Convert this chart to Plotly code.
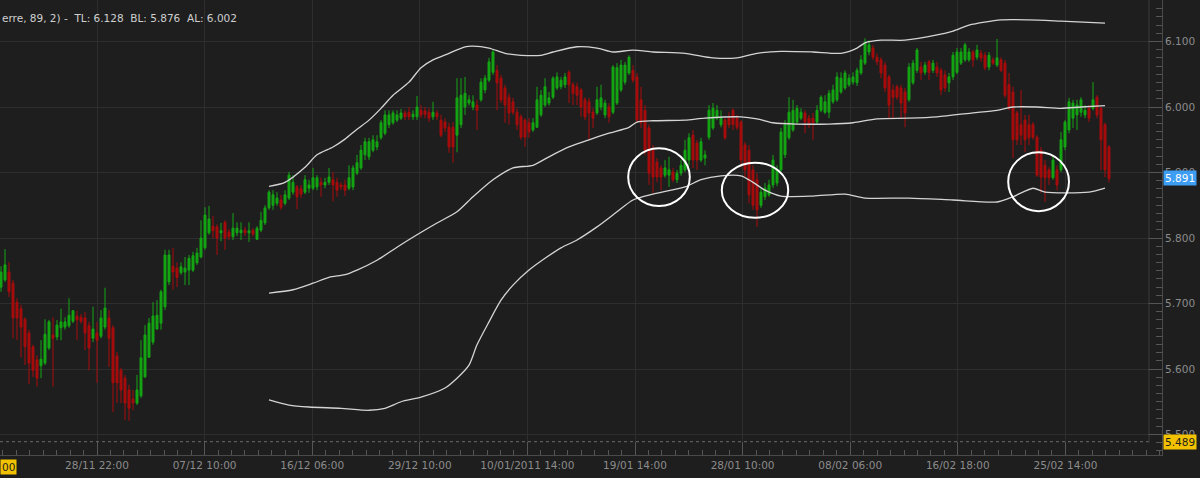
import plotly.graph_objects as go

# ---------------- candle data (one candle per bar index) ----------------
opens = [
    5.725, 5.736, 5.748, 5.731, 5.702, 5.692, 5.676, 5.655, 5.634, 5.614,
    5.605, 5.609, 5.632, 5.652, 5.649, 5.663, 5.664, 5.666, 5.673, 5.681,
    5.679, 5.678, 5.666, 5.647, 5.655, 5.650, 5.664, 5.678, 5.663, 5.620,
    5.598, 5.586, 5.568, 5.554, 5.548, 5.559, 5.588, 5.618, 5.641, 5.661,
    5.670, 5.695, 5.733, 5.757, 5.754, 5.747, 5.748, 5.751, 5.751, 5.762,
    5.771, 5.785, 5.808, 5.818, 5.817, 5.808, 5.824, 5.809,
    5.802, 5.808, 5.808, 5.812, 5.808, 5.812, 5.798, 5.812, 5.823, 5.846,
    5.850, 5.853, 5.858, 5.853, 5.861, 5.870, 5.878, 5.875, 5.870, 5.876,
    5.876, 5.878, 5.885, 5.881, 5.885, 5.889, 5.885, 5.881, 5.881, 5.876,
    5.878, 5.899, 5.907, 5.927, 5.924, 5.934, 5.939, 5.953, 5.960, 5.973,
    5.976, 5.980, 5.983, 5.991, 5.992, 5.985, 5.985, 5.995, 5.994, 5.992,
    5.985, 5.991, 5.980, 5.977, 5.969, 5.969, 5.957,
    5.973, 6.000, 6.006, 6.000, 6.003, 6.011, 6.026, 6.041, 6.053, 6.056,
    6.044, 6.029, 6.015, 6.008, 5.992, 5.985, 5.980, 5.976, 5.965, 5.969,
    5.988, 6.003, 6.006, 6.015, 6.029, 6.031, 6.034, 6.053, 6.034, 6.031,
    6.026, 6.011, 6.008, 5.992, 5.991, 6.000, 5.988, 6.000, 5.992, 6.006,
    6.026, 6.038, 6.052, 6.056, 6.046, 6.011, 5.995, 5.968, 5.934, 5.916,
    5.907, 5.896, 5.896, 5.901, 5.889, 5.899, 5.904,
    5.919, 5.957, 5.945, 5.919, 5.922, 5.954, 5.968, 5.983, 5.973, 5.980,
    5.983, 5.995, 5.983, 5.977, 5.942, 5.934, 5.904, 5.889, 5.850, 5.863,
    5.866, 5.881, 5.884, 5.904, 5.927, 5.953, 5.965, 5.977, 5.983, 5.991,
    5.983, 5.983, 5.977, 5.995, 5.992, 5.992, 6.008, 6.011, 6.023, 6.029,
    6.034, 6.038, 6.037, 6.052, 6.067, 6.084, 6.090, 6.076, 6.072, 6.064,
    6.046, 6.026, 6.031, 6.029, 6.023,
    6.011, 6.037, 6.056, 6.061, 6.053, 6.069, 6.056, 6.061, 6.056, 6.049,
    6.037, 6.046, 6.053, 6.067, 6.072, 6.072, 6.084, 6.076, 6.082, 6.079,
    6.061, 6.072, 6.064, 6.072, 6.067, 6.034, 6.023, 5.991, 5.973, 5.980,
    5.973, 5.973, 5.954, 5.934, 5.911, 5.904, 5.892, 5.904, 5.904, 5.939,
    5.965, 5.983, 5.988, 5.992, 5.988, 5.998, 5.998, 6.015, 5.998, 5.973, 5.939,
]
highs = [
    5.757, 5.783, 5.763, 5.736, 5.708, 5.698, 5.679, 5.660, 5.637, 5.621,
    5.644, 5.676, 5.675, 5.679, 5.675, 5.692, 5.679, 5.708, 5.690, 5.689,
    5.684, 5.687, 5.672, 5.695, 5.672, 5.690, 5.724, 5.690, 5.667, 5.626,
    5.602, 5.591, 5.576, 5.568, 5.591, 5.644, 5.667, 5.678, 5.702, 5.705,
    5.721, 5.782, 5.782, 5.785, 5.763, 5.763, 5.771, 5.774, 5.779, 5.785,
    5.827, 5.847, 5.849, 5.834, 5.821, 5.823, 5.827, 5.814,
    5.838, 5.824, 5.824, 5.817, 5.824, 5.815, 5.818, 5.840, 5.850, 5.873,
    5.873, 5.870, 5.866, 5.873, 5.901, 5.896, 5.881, 5.881, 5.896, 5.889,
    5.907, 5.896, 5.892, 5.892, 5.907, 5.901, 5.892, 5.885, 5.889, 5.911,
    5.911, 5.927, 5.942, 5.953, 5.953, 5.957, 5.957, 5.980, 5.995, 5.995,
    5.995, 5.995, 5.997, 5.995, 6.000, 5.995, 6.017, 6.003, 6.000, 5.998,
    6.008, 5.995, 5.988, 5.983, 5.976, 5.977, 6.044,
    6.044, 6.046, 6.018, 6.018, 6.011, 6.044, 6.049, 6.075, 6.087, 6.064,
    6.049, 6.034, 6.021, 6.014, 5.998, 5.989, 5.983, 5.983, 5.983, 6.031,
    6.026, 6.044, 6.023, 6.047, 6.053, 6.046, 6.052, 6.056, 6.038, 6.037,
    6.029, 6.015, 6.014, 5.998, 6.031, 6.034, 6.011, 6.006, 6.064, 6.067,
    6.072, 6.069, 6.079, 6.064, 6.052, 6.031, 6.003, 5.973, 5.942, 5.922,
    5.911, 5.919, 5.924, 5.907, 5.904, 5.919, 5.950,
    5.960, 5.965, 5.950, 5.953, 5.934, 6.003, 6.006, 6.003, 5.995, 5.983,
    5.992, 5.998, 5.988, 5.980, 5.947, 5.942, 5.911, 5.899, 5.876, 5.884,
    5.889, 5.927, 5.911, 5.968, 5.980, 6.015, 6.011, 6.003, 5.998, 5.995,
    5.988, 5.991, 6.003, 6.018, 6.018, 6.026, 6.034, 6.053, 6.053, 6.056,
    6.050, 6.053, 6.060, 6.079, 6.105, 6.102, 6.095, 6.082, 6.076, 6.069,
    6.049, 6.034, 6.034, 6.034, 6.029,
    6.067, 6.072, 6.090, 6.069, 6.069, 6.072, 6.072, 6.069, 6.060, 6.056,
    6.052, 6.084, 6.090, 6.090, 6.098, 6.090, 6.087, 6.095, 6.087, 6.084,
    6.084, 6.076, 6.104, 6.076, 6.072, 6.052, 6.031, 5.995, 6.026, 5.988,
    5.988, 5.977, 5.957, 5.939, 5.919, 5.908, 5.927, 5.911, 5.962, 5.980,
    6.014, 6.011, 6.011, 6.015, 6.003, 6.003, 6.038, 6.018, 6.000, 5.976, 5.942,
]
lows = [
    5.718, 5.733, 5.710, 5.647, 5.644, 5.618, 5.606, 5.577, 5.588, 5.573,
    5.586, 5.606, 5.629, 5.573, 5.644, 5.644, 5.660, 5.663, 5.670, 5.644,
    5.669, 5.629, 5.598, 5.641, 5.579, 5.647, 5.660, 5.603, 5.534, 5.548,
    5.548, 5.522, 5.521, 5.537, 5.545, 5.556, 5.586, 5.617, 5.637, 5.660,
    5.660, 5.690, 5.728, 5.721, 5.725, 5.744, 5.728, 5.728, 5.748, 5.759,
    5.769, 5.782, 5.805, 5.800, 5.774, 5.795, 5.782, 5.797,
    5.797, 5.803, 5.797, 5.803, 5.794, 5.802, 5.797, 5.809, 5.820, 5.843,
    5.843, 5.849, 5.843, 5.850, 5.858, 5.866, 5.844, 5.861, 5.867, 5.869,
    5.873, 5.873, 5.863, 5.876, 5.881, 5.856, 5.863, 5.873, 5.864, 5.873,
    5.873, 5.896, 5.904, 5.919, 5.919, 5.931, 5.934, 5.950, 5.957, 5.968,
    5.973, 5.977, 5.980, 5.980, 5.980, 5.980, 5.980, 5.983, 5.983, 5.977,
    5.980, 5.980, 5.954, 5.962, 5.930, 5.915, 5.931,
    5.968, 5.988, 6.002, 5.995, 5.965, 6.008, 6.021, 6.038, 6.049, 5.995,
    6.006, 5.976, 5.973, 5.988, 5.965, 5.950, 5.939, 5.953, 5.962, 5.968,
    5.985, 6.000, 6.002, 6.012, 6.026, 6.027, 6.029, 6.006, 6.003, 6.003,
    5.985, 5.980, 5.950, 5.968, 5.988, 5.995, 5.983, 5.976, 5.989, 6.003,
    6.023, 6.034, 6.049, 6.037, 5.977, 5.968, 5.927, 5.881, 5.869, 5.885,
    5.873, 5.892, 5.878, 5.885, 5.884, 5.895, 5.901,
    5.911, 5.907, 5.904, 5.916, 5.911, 5.950, 5.965, 5.980, 5.969, 5.950,
    5.968, 5.965, 5.965, 5.908, 5.892, 5.853, 5.843, 5.817, 5.846, 5.858,
    5.863, 5.876, 5.879, 5.901, 5.922, 5.950, 5.962, 5.973, 5.980, 5.960,
    5.968, 5.950, 5.974, 5.992, 5.989, 5.983, 6.005, 6.008, 6.020, 6.026,
    6.031, 6.034, 6.032, 6.049, 6.064, 6.079, 6.072, 6.064, 6.044, 6.023,
    5.983, 5.983, 6.011, 5.983, 5.969,
    6.008, 6.034, 6.052, 6.041, 6.049, 6.041, 6.052, 6.046, 6.018, 6.023,
    6.023, 6.041, 6.050, 6.064, 6.069, 6.069, 6.061, 6.072, 6.069, 6.056,
    6.056, 6.064, 6.061, 6.053, 6.014, 5.995, 5.922, 5.942, 5.942, 5.931,
    5.942, 5.950, 5.893, 5.869, 5.855, 5.881, 5.889, 5.873, 5.901, 5.934,
    5.960, 5.968, 5.965, 5.985, 5.983, 5.977, 5.995, 5.983, 5.904, 5.893, 5.885,
]
closes = [
    5.748, 5.759, 5.718, 5.678, 5.678, 5.664, 5.634, 5.609, 5.598, 5.586,
    5.615, 5.653, 5.672, 5.647, 5.667, 5.672, 5.672, 5.682, 5.689, 5.675,
    5.673, 5.655, 5.632, 5.661, 5.644, 5.678, 5.693, 5.647, 5.579, 5.579,
    5.568, 5.548, 5.540, 5.548, 5.568, 5.617, 5.652, 5.670, 5.681, 5.682,
    5.718, 5.774, 5.774, 5.748, 5.740, 5.756, 5.754, 5.769, 5.773, 5.777,
    5.800, 5.835, 5.829, 5.811, 5.800, 5.811, 5.800, 5.802,
    5.815, 5.815, 5.812, 5.808, 5.811, 5.806, 5.815, 5.827, 5.846, 5.870,
    5.866, 5.861, 5.847, 5.866, 5.896, 5.885, 5.863, 5.867, 5.889, 5.881,
    5.892, 5.892, 5.881, 5.885, 5.893, 5.881, 5.873, 5.878, 5.873, 5.892,
    5.907, 5.915, 5.934, 5.947, 5.947, 5.950, 5.947, 5.976, 5.988, 5.988,
    5.991, 5.988, 5.991, 5.985, 5.985, 5.989, 6.000, 5.988, 5.989, 5.983,
    5.992, 5.985, 5.957, 5.968, 5.939, 5.939, 6.014,
    6.018, 6.021, 6.011, 6.008, 5.995, 6.038, 6.044, 6.069, 6.084, 6.037,
    6.011, 6.003, 5.991, 5.992, 5.973, 5.954, 5.954, 5.962, 5.976, 6.011,
    6.018, 6.031, 6.014, 6.044, 6.046, 6.041, 6.046, 6.034, 6.021, 6.018,
    6.000, 5.985, 5.991, 5.983, 6.011, 6.014, 6.006, 5.985, 6.061, 6.060,
    6.064, 6.064, 6.076, 6.041, 5.980, 5.976, 5.934, 5.899, 5.893, 5.893,
    5.893, 5.907, 5.904, 5.889, 5.899, 5.911, 5.934,
    5.953, 5.919, 5.919, 5.947, 5.927, 5.995, 5.998, 5.995, 5.983, 5.953,
    5.973, 5.973, 5.969, 5.919, 5.904, 5.866, 5.850, 5.843, 5.870, 5.876,
    5.881, 5.919, 5.904, 5.962, 5.973, 5.992, 5.995, 5.998, 5.992, 5.977,
    5.973, 5.976, 5.995, 6.015, 6.008, 6.021, 6.026, 6.046, 6.044, 6.052,
    6.044, 6.046, 6.056, 6.072, 6.099, 6.095, 6.076, 6.069, 6.052, 6.029,
    6.003, 6.015, 6.015, 6.006, 5.991,
    6.061, 6.067, 6.087, 6.052, 6.064, 6.053, 6.067, 6.052, 6.026, 6.029,
    6.046, 6.079, 6.084, 6.084, 6.095, 6.084, 6.072, 6.087, 6.075, 6.060,
    6.079, 6.067, 6.075, 6.056, 6.018, 5.998, 5.950, 5.950, 5.957, 5.950,
    5.953, 5.954, 5.896, 5.893, 5.892, 5.892, 5.919, 5.881, 5.950, 5.977,
    6.008, 6.006, 6.003, 6.011, 5.995, 5.983, 6.011, 5.988, 5.950, 5.904, 5.891,
]
bar_index = list(range(len(closes)))

# ---------------- Bollinger bands (Cierre, 89, 2) ----------------
upper_idx = [67, 71, 76, 79, 83, 86, 89, 92, 95, 98, 102, 105, 108, 112, 116, 118,
             122, 126, 130, 135, 138, 144, 149, 153, 158, 163, 171, 178, 184, 189,
             195, 203, 210, 214, 216, 220, 226, 234, 238, 242, 250, 257, 265, 276]
upper_band = [5.879, 5.885, 5.908, 5.927, 5.939, 5.951, 5.966, 5.980, 5.998, 6.018,
              6.038, 6.060, 6.072, 6.082, 6.092, 6.093, 6.090, 6.082, 6.079, 6.079,
              6.084, 6.092, 6.090, 6.084, 6.087, 6.084, 6.082, 6.075, 6.075, 6.082,
              6.085, 6.084, 6.082, 6.090, 6.098, 6.102, 6.102, 6.110, 6.116, 6.125,
              6.133, 6.133, 6.131, 6.128]
middle_idx = [67, 73, 78, 82, 86, 89, 94, 99, 104, 109, 114, 118, 123, 128, 133, 137,
              142, 147, 152, 157, 159, 163, 171, 176, 185, 189, 193, 199, 207, 213,
              219, 227, 234, 243, 249, 253, 259, 265, 270, 276]
middle_band = [5.716, 5.721, 5.731, 5.740, 5.744, 5.751, 5.766, 5.786, 5.805, 5.823,
               5.840, 5.863, 5.889, 5.907, 5.911, 5.924, 5.939, 5.950, 5.960, 5.969,
               5.977, 5.979, 5.980, 5.983, 5.985, 5.982, 5.976, 5.974, 5.974, 5.976,
               5.982, 5.983, 5.985, 5.991, 5.995, 6.000, 6.000, 5.998, 6.000, 6.002]
lower_idx = [67, 72, 77, 85, 92, 96, 100, 105, 111, 114, 117, 119, 122, 125, 128, 132,
             136, 140, 144, 149, 154, 158, 163, 171, 175, 180, 185, 188, 191, 195,
             203, 211, 216, 227, 238, 249, 253, 258, 261, 272, 276]
lower_band = [5.553, 5.545, 5.542, 5.540, 5.537, 5.540, 5.550, 5.557, 5.571, 5.586,
              5.606, 5.637, 5.672, 5.705, 5.728, 5.751, 5.769, 5.785, 5.797, 5.817,
              5.840, 5.858, 5.867, 5.878, 5.889, 5.895, 5.895, 5.885, 5.873, 5.864,
              5.864, 5.867, 5.861, 5.861, 5.858, 5.855, 5.863, 5.876, 5.870, 5.870,
              5.876]

# ---------------- axis labels / markers ----------------
time_labels = ["28/11 22:00", "07/12 10:00", "16/12 06:00", "29/12 10:00",
               "10/01/2011 14:00", "19/01 14:00", "28/01 10:00", "08/02 06:00",
               "16/02 18:00", "25/02 14:00"]
first_label_bar = 24
bars_per_label = 26.9
last_price = 5.891
low_marker = 5.489
highlight_x0 = [156.8, 180.2, 251.8]
highlight_x1 = [172.2, 196.8, 267.0]
highlight_y0 = [5.849, 5.831, 5.841]
highlight_y1 = [5.937, 5.915, 5.931]

BG = "#1e1e1e"
GRID = "#2e2e2e"
AXIS = "#4a4a4a"
TXT = "#8c8c8c"
FONT = "DejaVu Sans"

fig = go.Figure()
fig.add_trace(go.Candlestick(
    x=bar_index, open=opens, high=highs, low=lows, close=closes,
    increasing=dict(line=dict(color="#14a514", width=1), fillcolor="#14a514"),
    decreasing=dict(line=dict(color="#a80d0d", width=1), fillcolor="#a80d0d"),
    whiskerwidth=0, hoverinfo="skip",
))
for bx, by in ((upper_idx, upper_band), (middle_idx, middle_band), (lower_idx, lower_band)):
    fig.add_trace(go.Scatter(
        x=bx, y=by, mode="lines", hoverinfo="skip",
        line=dict(color="#d4d4d4", width=1.3, shape="spline", smoothing=0.7),
    ))

tick_pos = [first_label_bar + k * bars_per_label for k in range(len(time_labels))]

shapes = []
for x0, x1, y0, y1 in zip(highlight_x0, highlight_x1, highlight_y0, highlight_y1):
    shapes.append(dict(type="circle", xref="x", yref="y", x0=x0, x1=x1, y0=y0, y1=y1,
                       line=dict(color="#ffffff", width=2), layer="above"))
# dotted level line and right border of the price pane
shapes.append(dict(type="line", xref="x", yref="y", x0=-0.25, x1=287, y0=low_marker, y1=low_marker,
                   line=dict(color="#6a6a6a", width=1, dash="dot")))
shapes.append(dict(type="line", xref="x", yref="paper", x0=287, x1=287, y0=0.026, y1=1,
                   line=dict(color="#3a3a3a", width=1)))

annotations = [
    dict(xref="paper", yref="paper", x=0, y=0.96, xanchor="left", yanchor="middle",
         showarrow=False,
         text="erre, 89, 2) -\u00a0\u00a0TL: %.3f\u00a0\u00a0BL: %.3f\u00a0\u00a0AL: %.3f"
              % (upper_band[-1], lower_band[-1], middle_band[-1]),
         font=dict(family=FONT, size=10.5, color="#cfcfcf")),
    dict(xref="paper", yref="y", x=1, y=last_price, xanchor="left", yanchor="middle",
         xshift=1, showarrow=False, text="%.3f" % last_price, bgcolor="#3d9df2",
         borderpad=1, font=dict(family=FONT, size=10.5, color="#ffffff")),
    dict(xref="paper", yref="y", x=1, y=low_marker, xanchor="left", yanchor="middle",
         xshift=1, showarrow=False, text="%.3f" % low_marker, bgcolor="#f2c200",
         borderpad=1, font=dict(family=FONT, size=10.5, color="#1e1e1e")),
    dict(xref="paper", yref="paper", x=0, y=-0.026, xanchor="left", yanchor="middle",
         showarrow=False, text="00", bgcolor="#f2c200", borderpad=1,
         font=dict(family=FONT, size=10.5, color="#1e1e1e")),
]

fig.update_layout(
    width=1200, height=478,
    margin=dict(l=0, r=38, t=0, b=23),
    paper_bgcolor=BG, plot_bgcolor=BG,
    showlegend=False,
    font=dict(family=FONT, size=10.5, color=TXT),
    shapes=shapes, annotations=annotations,
    xaxis=dict(
        range=[-0.25, 290.25], tickmode="array", tickvals=tick_pos, ticktext=time_labels,
        ticks="inside", ticklen=13, tickcolor="#555555", tickfont=dict(color=TXT, size=10.5),
        showgrid=True, gridcolor=GRID, gridwidth=1, zeroline=False,
        showline=True, linecolor=AXIS, linewidth=1,
        minor=dict(tickmode="linear", tick0=first_label_bar, dtick=bars_per_label / 8,
                   ticks="inside", ticklen=5, tickcolor="#555555", showgrid=False),
        rangeslider=dict(visible=False), fixedrange=True,
    ),
    yaxis=dict(
        side="right", range=[5.4687, 6.1634], tickmode="linear", tick0=5.5, dtick=0.1,
        tickformat=".3f", ticks="inside", ticklen=14, tickcolor="#555555",
        tickfont=dict(color=TXT, size=10.5),
        showgrid=True, gridcolor=GRID, gridwidth=1, zeroline=False,
        showline=True, linecolor=AXIS, linewidth=1,
        minor=dict(tickmode="linear", tick0=5.5, dtick=0.0125, ticks="inside", ticklen=6,
                   tickcolor="#555555", showgrid=False),
        fixedrange=True,
    ),
)

fig.write_html(
    "out.html",
    config={"displayModeBar": False},
    post_script="document.body.style.margin='0';document.body.style.background='%s';" % BG,
)
